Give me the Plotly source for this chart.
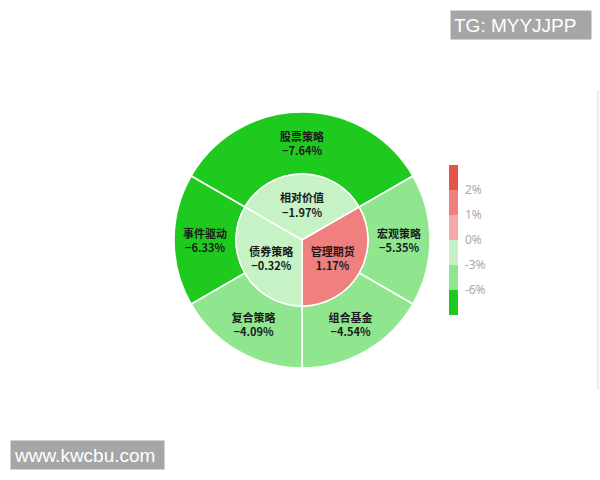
import plotly.graph_objects as go

# inner ring (3 strategies), returns in %
inner_labels = ['相对价值', '管理期货', '债券策略']
inner_values = [-1.97, 1.17, -0.32]

# outer ring (5 strategies) and the inner slice each one sits on
outer_labels = ['股票策略', '宏观策略', '组合基金', '复合策略', '事件驱动']
outer_values = [-7.64, -5.35, -4.54, -4.09, -6.33]
outer_parents = ['相对价值', '管理期货', '管理期货', '债券策略', '债券策略']

# discrete colour pieces, from lowest to highest
piece_bounds = [-6, -3, 0, 1, 2]
piece_colors = ['#1fca1f', '#8fe68f', '#c6f2c6', '#f6a7a7', '#f07f7f', '#e5544c']
tick_labels = ['-6%', '-3%', '0%', '1%', '2%']


def piece_color(v):
    i = 0
    for b in piece_bounds:
        if v >= b:
            i += 1
    return piece_colors[i]


def fmt(v):
    s = '%.2f%%' % abs(v)
    return ('−' + s) if v < 0 else s


# each inner slice gets an equal share, split equally among its children
outer_share = [1.0 / outer_parents.count(p) for p in outer_parents]

W, H = 600, 480
cx, cy = 302, 240
r_out, r_in = 128, 66

textfont = dict(family='Noto Sans CJK SC', size=11, color='#1a1a1a')
tmpl = '<b>%{label}</b><br><b>%{customdata}</b>'

fig = go.Figure()

fig.add_trace(go.Pie(
    labels=outer_labels,
    values=outer_share,
    customdata=[fmt(v) for v in outer_values],
    texttemplate=tmpl,
    textposition='inside',
    insidetextorientation='horizontal',
    textfont=textfont,
    marker=dict(colors=[piece_color(v) for v in outer_values],
                line=dict(color='white', width=1.5)),
    hole=r_in / r_out,
    sort=False,
    direction='clockwise',
    rotation=-60,
    domain=dict(x=[(cx - r_out) / W, (cx + r_out) / W],
                y=[(H - cy - r_out) / H, (H - cy + r_out) / H]),
    showlegend=False,
    hoverinfo='label+text',
))

fig.add_trace(go.Pie(
    labels=inner_labels,
    values=[1] * len(inner_labels),
    customdata=[fmt(v) for v in inner_values],
    texttemplate=tmpl,
    textposition='inside',
    insidetextorientation='horizontal',
    textfont=textfont,
    marker=dict(colors=[piece_color(v) for v in inner_values],
                line=dict(color='white', width=1.5)),
    sort=False,
    direction='clockwise',
    rotation=-60,
    domain=dict(x=[(cx - r_in) / W, (cx + r_in) / W],
                y=[(H - cy - r_in) / H, (H - cy + r_in) / H]),
    showlegend=False,
))

# discrete colour bar (piecewise legend)
n = len(piece_colors)
cscale = []
for i, c in enumerate(piece_colors):
    cscale.append([i / n, c])
    cscale.append([(i + 1) / n, c])

fig.add_trace(go.Scatter(
    x=[None], y=[None], mode='markers', hoverinfo='skip', showlegend=False,
    marker=dict(color=[0], cmin=0, cmax=n, colorscale=cscale, showscale=True,
                colorbar=dict(x=449 / W, xanchor='left', xpad=0,
                              y=1 - 240 / H, yanchor='middle', ypad=0,
                              len=150 / H, lenmode='fraction', thickness=9,
                              outlinewidth=0, ticks='outside', ticklen=5,
                              tickcolor='rgba(0,0,0,0)',
                              tickvals=list(range(1, n)), ticktext=tick_labels,
                              tickfont=dict(family='Noto Sans', size=12, color='#aaaaaa'))),
))

fig.update_layout(
    width=W, height=H,
    margin=dict(l=0, r=0, t=0, b=0),
    paper_bgcolor='white', plot_bgcolor='white',
    xaxis=dict(visible=False), yaxis=dict(visible=False),
    shapes=[dict(type='line', xref='paper', yref='paper',
                 x0=598 / W, x1=598 / W, y0=1 - 90 / H, y1=1 - 390 / H,
                 line=dict(color='#e4e4e4', width=1.5))],
    annotations=[
        dict(text='TG: MYYJJPP', xref='paper', yref='paper',
             x=450 / W, y=1 - 10 / H, xanchor='left', yanchor='top', align='left',
             showarrow=False, bgcolor='#a6a6a6', width=134, height=22, borderpad=3,
             font=dict(family='Liberation Sans', size=19, color='white')),
        dict(text='www.kwcbu.com', xref='paper', yref='paper',
             x=10 / W, y=1 - 440 / H, xanchor='left', yanchor='top', align='left',
             showarrow=False, bgcolor='#a6a6a6', width=147, height=22, borderpad=3,
             font=dict(family='Liberation Sans', size=19, color='white')),
    ],
)

fig.write_html('out.html', config={'displayModeBar': False},
               post_script="document.body.style.margin='0';")
